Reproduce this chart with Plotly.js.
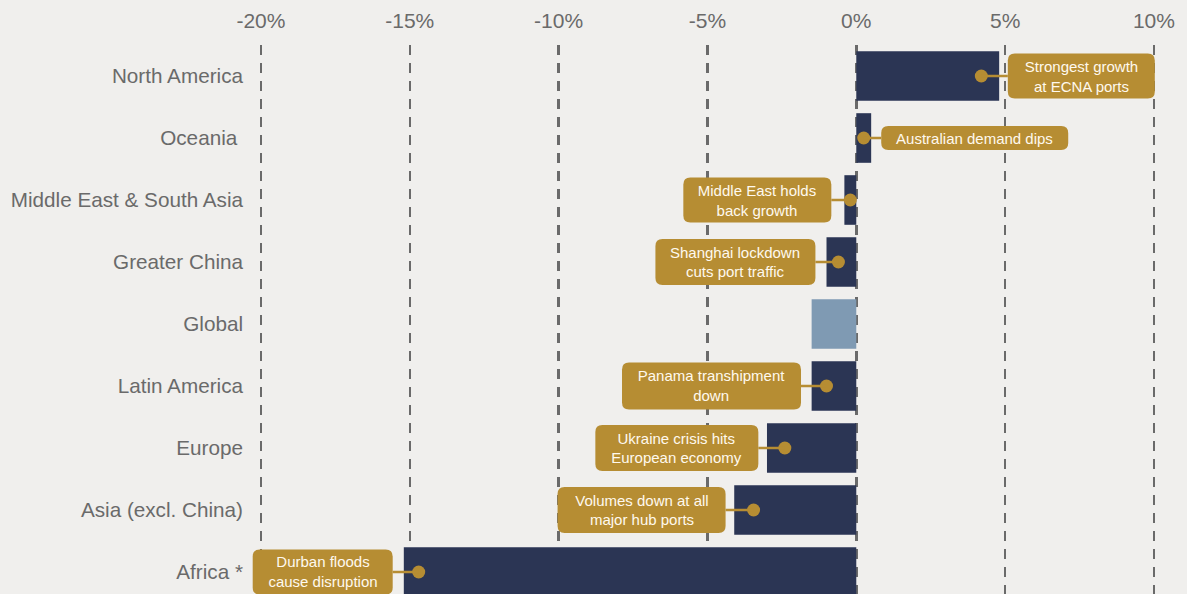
<!DOCTYPE html>
<html>
<head>
<meta charset="utf-8">
<script src="https://cdn.plot.ly/plotly-3.0.1.min.js"></script>
<style>
  html, body { margin: 0; padding: 0; background: #F0EFED; }
  #chart { width: 1187px; height: 594px; }
</style>
</head>
<body>
<div id="chart"></div>
<script>
// ---- data ----
const regions = ["North America", "Oceania\u00a0", "Middle East & South Asia", "Greater China", "Global",
                 "Latin America", "Europe", "Asia (excl. China)", "Africa *"];
const growthPct = [4.8, 0.5, -0.4, -1.0, -1.5, -1.5, -3.0, -4.1, -15.2];
const xTickVals = [-20, -15, -10, -5, 0, 5, 10];
const xTickText = ["-20%", "-15%", "-10%", "-5%", "0%", "5%", "10%"];
// callouts (index into regions, anchor value in %, text)
const calloutRegion = [0, 1, 2, 3, 5, 6, 7, 8];
const calloutX = [4.2, 0.25, -0.2, -0.6, -1.0, -2.4, -3.45, -14.7];
const calloutText = [
  "Strongest growth<br>at ECNA ports",
  "Australian demand dips",
  "Middle East holds<br>back growth",
  "Shanghai lockdown<br>cuts port traffic",
  "Panama transhipment<br>down",
  "Ukraine crisis hits<br>European economy",
  "Volumes down at all<br>major hub ports",
  "Durban floods<br>cause disruption"
];

// ---- styles / layout (pixel geometry for callout boxes) ----
const boxDX = [100, 111, -93, -103, -115, -108, -112, -96];   // box centre offset from dot, px
const boxW  = [147, 187, 148, 160, 179, 163, 168, 140];
const boxH  = [45, 24, 45, 46, 47, 46, 46, 45];
const GOLD = "#B68D33";
const DARK = "#2B3554";
const LIGHT = "#7F9AB3";

const barColors = regions.map(r => r === "Global" ? LIGHT : DARK);

const bars = {
  type: "bar", orientation: "h",
  y: regions, x: growthPct,
  marker: { color: barColors, line: { width: 0 } },
  width: 0.8, hoverinfo: "skip"
};
const dots = {
  type: "scatter", mode: "markers",
  y: calloutRegion.map(i => regions[i]), x: calloutX,
  marker: { color: GOLD, size: 13 }, hoverinfo: "skip"
};

function roundRect(cx, w, h, r) {
  const x0 = cx - w / 2, x1 = cx + w / 2, y0 = -h / 2, y1 = h / 2;
  return `M ${x0 + r} ${y0} L ${x1 - r} ${y0} Q ${x1} ${y0} ${x1} ${y0 + r} ` +
         `L ${x1} ${y1 - r} Q ${x1} ${y1} ${x1 - r} ${y1} ` +
         `L ${x0 + r} ${y1} Q ${x0} ${y1} ${x0} ${y1 - r} ` +
         `L ${x0} ${y0 + r} Q ${x0} ${y0} ${x0 + r} ${y0} Z`;
}

const shapes = calloutRegion.map((ri, k) => ({
  type: "path", layer: "above",
  xref: "x", yref: "y",
  xsizemode: "pixel", ysizemode: "pixel",
  xanchor: calloutX[k], yanchor: ri,
  path: roundRect(boxDX[k], boxW[k], boxH[k], 7),
  fillcolor: GOLD, line: { width: 0 }
}));

const annotations = calloutRegion.map((ri, k) => ({
  xref: "x", yref: "y",
  x: calloutX[k], y: ri,
  ax: boxDX[k], ay: 0,
  text: calloutText[k],
  showarrow: true, arrowhead: 0, arrowwidth: 2.6, arrowcolor: GOLD, standoff: 0,
  width: boxW[k], height: boxH[k], borderpad: 0, borderwidth: 0,
  bgcolor: "rgba(0,0,0,0)",
  font: { family: "Liberation Sans, Arial, sans-serif", size: 15, color: "#FFF9EE" },
  align: "center"
}));

const layout = {
  width: 1187, height: 594,
  paper_bgcolor: "#F0EFED", plot_bgcolor: "#F0EFED",
  margin: { l: 252, r: 0, t: 45, b: 0 },
  showlegend: false,
  bargap: 0.2,
  font: { family: "Liberation Sans, Arial, sans-serif", color: "#6A6A6A" },
  xaxis: {
    side: "top", range: [-20.3, 11.11],
    tickvals: xTickVals, ticktext: xTickText,
    tickfont: { size: 21, color: "#6A6A6A" },
    showgrid: true, gridcolor: "#6A6A6A", gridwidth: 2.5, griddash: "10px,8px",
    zeroline: false, showline: false, ticks: "",
    ticklabelstandoff: 12
  },
  yaxis: {
    type: "category",
    range: [8.355, -0.5],
    tickfont: { size: 20.7, color: "#6A6A6A" },
    showgrid: false, zeroline: false, showline: false, ticks: "",
    ticklabelstandoff: 8
  },
  shapes: shapes,
  annotations: annotations
};

Plotly.newPlot("chart", [bars, dots], layout, { staticPlot: true });
</script>
</body>
</html>
